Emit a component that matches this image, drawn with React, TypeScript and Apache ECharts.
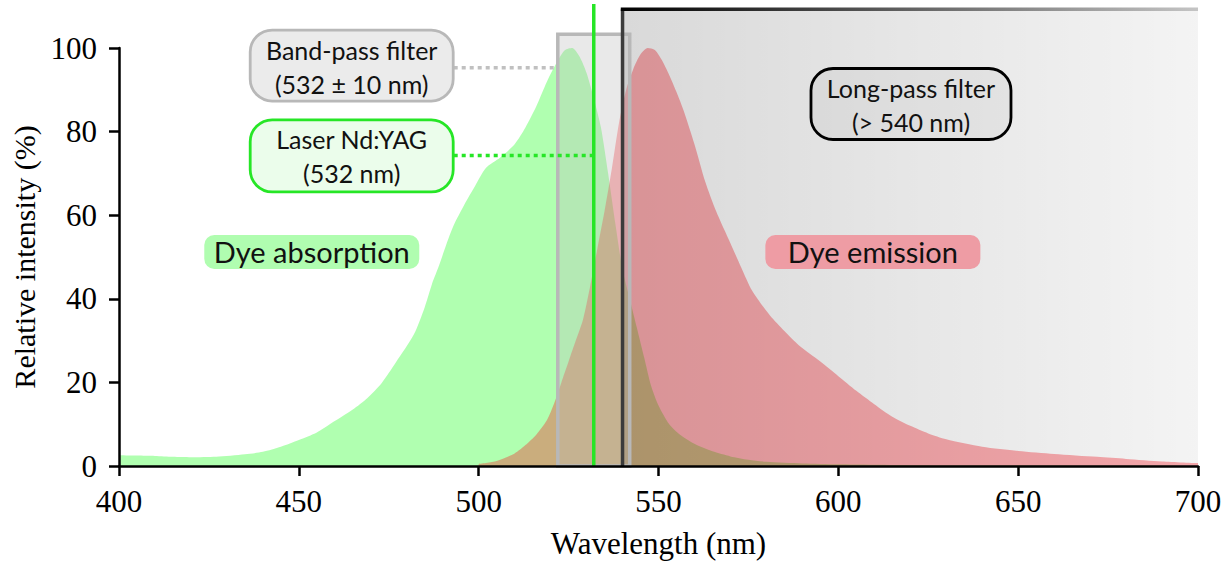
import React, { useEffect, useRef } from "react";
import * as echarts from "echarts";

// ---- data ----
const absWl = [400, 405, 410, 415, 420, 427, 435, 440, 445, 450, 455, 459, 465, 469, 473, 477, 482, 485, 487, 489, 491, 493, 496, 499, 502, 506, 510, 513, 516, 519, 522, 524, 526, 528, 530, 532, 534, 536, 538, 540, 542, 544, 546, 548, 550, 553, 556, 560, 565, 570, 575, 580, 590, 600, 620, 650, 700];
const absVal = [2.6, 2.5, 2.4, 2.2, 2.1, 2.2, 2.8, 3.4, 4.6, 6.2, 8.0, 10.2, 13.5, 16.2, 19.8, 24.8, 31.5, 38, 43.5, 48, 53, 57.5, 62.5, 67, 71.3, 73.8, 77, 81, 86, 92, 97, 99.5, 100, 98, 94, 88, 81, 70, 58, 47, 40, 33, 26, 19, 14.5, 10, 7.5, 5.3, 3.5, 2.3, 1.5, 1.0, 0.6, 0.4, 0.2, 0.1, 0];

const emWl = [500, 505, 510, 513, 516, 519, 521, 523, 525, 527, 529, 531, 533, 535, 537, 539, 541, 543, 545, 547, 549, 551, 553, 555, 557, 560, 563, 566, 570, 573, 576, 581, 585, 589, 595, 600, 605, 610, 615, 620, 625, 630, 640, 650, 660, 672, 680, 690, 700];
const emVal = [0.5, 1.2, 3, 5, 7.5, 11, 15, 20, 25, 30, 35, 43, 52, 61, 71, 82, 90, 95, 98.5, 100, 99.5, 97, 93.5, 89.5, 85, 77, 68, 61, 53.3, 47.5, 42, 36, 32.3, 28.9, 25, 21.5, 18, 14.8, 11.8, 9.6, 7.8, 6.4, 4.6, 3.6, 2.9, 2.2, 1.7, 1.1, 0.7];

const xTicks = [400, 450, 500, 550, 600, 650, 700];
const yTicks = [0, 20, 40, 60, 80, 100];

const laserNm = 532;
const bandPassLo = 522;
const bandPassHi = 542;
const bandPassTop = 103.3;
const longPassFrom = 540;
const longPassTo = 700;
const longPassTop = 109.3;
const laserTop = 110.5;

const SERIF = "'Liberation Serif', 'Times New Roman', serif";
const SANS = "Lato, 'Open Sans', sans-serif";

export default function App() {
  const ref = useRef<HTMLDivElement>(null);

  useEffect(() => {
    if (!ref.current) return;
    const chart = echarts.init(ref.current, undefined, { renderer: "svg" });

    const absData = absWl.map((w, i) => [w, absVal[i]]);
    const emData = emWl.map((w, i) => [w, emVal[i]]);

    chart.setOption({
      animation: false,
      backgroundColor: "#ffffff",
      grid: { left: 119, right: 34, top: 48, bottom: 97, containLabel: false, outerBoundsMode: "none" },
      xAxis: {
        type: "value",
        min: xTicks[0],
        max: xTicks[xTicks.length - 1],
        interval: 50,
        z: 10,
        name: "Wavelength (nm)",
        nameLocation: "middle",
        nameGap: 62,
        nameTextStyle: { fontFamily: SERIF, fontSize: 31, color: "#000" },
        axisLine: { show: true, lineStyle: { color: "#000", width: 2.5 } },
        axisTick: { show: true, inside: false, length: 10, lineStyle: { color: "#000", width: 2.5 } },
        axisLabel: { fontFamily: SERIF, fontSize: 31, color: "#000", margin: 20 },
        splitLine: { show: false },
      },
      yAxis: {
        type: "value",
        min: yTicks[0],
        max: yTicks[yTicks.length - 1],
        interval: 20,
        z: 10,
        name: "Relative intensity (%)",
        nameLocation: "middle",
        nameGap: 78,
        nameTextStyle: { fontFamily: SERIF, fontSize: 30, color: "#000" },
        axisLine: { show: true, lineStyle: { color: "#000", width: 2.5 } },
        axisTick: { show: true, inside: false, length: 10, lineStyle: { color: "#000", width: 2.5 } },
        axisLabel: { fontFamily: SERIF, fontSize: 31, color: "#000", margin: 22 },
        splitLine: { show: false },
      },
      series: [
        {
          name: "Dye absorption",
          type: "line",
          data: absData,
          showSymbol: false,
          smooth: 0.25,
          z: 2,
          lineStyle: { width: 0, opacity: 0 },
          areaStyle: { color: "rgba(0,255,0,0.31)", opacity: 1 },
        },
        {
          name: "Dye emission",
          type: "line",
          data: emData,
          showSymbol: false,
          smooth: 0.25,
          z: 3,
          lineStyle: { width: 0, opacity: 0 },
          areaStyle: { color: "rgba(252,20,32,0.35)", opacity: 1 },
        },
      ],
    });

    const px = (x: number, y: number) => chart.convertToPixel({ gridIndex: 0 }, [x, y]) as number[];

    const lpTL = px(longPassFrom, longPassTop);
    const lpBR = px(longPassTo, 0);
    const bpTL = px(bandPassLo, bandPassTop);
    const bpBR = px(bandPassHi, 0);
    const lzT = px(laserNm, laserTop);
    const lzB = px(laserNm, 0);

    const box = (cx: number, cy: number, w: number, h: number, r: number, fill: string, stroke: string | null, lw: number, z: number) => ({
      type: "rect",
      z,
      shape: { x: cx - w / 2, y: cy - h / 2, width: w, height: h, r },
      style: { fill, stroke: stroke || "none", lineWidth: lw },
    });
    const txt = (cx: number, cy: number, s: string, size: number, z: number) => ({
      type: "text",
      z,
      x: cx,
      y: cy,
      style: { text: s, fontFamily: SANS, fontSize: size, fill: "#111", align: "center", verticalAlign: "middle" },
    });

    const bpLabel = px(464.7, 95.8);
    const lzLabel = px(464.7, 74.2);
    const lpLabel = px(620.2, 86.6);
    const absLabel = px(453.6, 51.2);
    const emLabel = px(609.6, 51.2);
    const bpLineY = px(0, 95.3)[1];
    const lzLineY = px(0, 74.3)[1];

    const graphic: any[] = [
      {
        type: "rect",
        z: 5,
        shape: { x: lpTL[0], y: lpTL[1], width: lpBR[0] - lpTL[0], height: lpBR[1] - lpTL[1] },
        style: {
          fill: {
            type: "linear", x: 0, y: 0, x2: 1, y2: 0,
            colorStops: [
              { offset: 0, color: "rgba(0,0,0,0.15)" },
              { offset: 1, color: "rgba(0,0,0,0.045)" },
            ],
          },
        },
      },
      {
        type: "rect",
        z: 5,
        shape: { x: bpTL[0], y: bpTL[1], width: bpBR[0] - bpTL[0], height: bpBR[1] - bpTL[1] },
        style: { fill: "rgba(188,188,188,0.33)", stroke: "#b8b8b8", lineWidth: 3.5 },
      },
      {
        type: "line",
        z: 6,
        shape: { x1: lpTL[0], y1: lpTL[1], x2: lpTL[0], y2: lpBR[1] },
        style: { stroke: "#3c3c3c", lineWidth: 3.5 },
      },
      {
        type: "rect",
        z: 6,
        shape: { x: lpTL[0] - 1.75, y: lpTL[1] - 1.75, width: lpBR[0] - lpTL[0] + 1.75, height: 3.5 },
        style: {
          fill: {
            type: "linear", x: 0, y: 0, x2: 1, y2: 0,
            colorStops: [
              { offset: 0, color: "#000000" },
              { offset: 1, color: "#c4c4c4" },
            ],
          },
        },
      },
      {
        type: "line",
        z: 7,
        shape: { x1: lzT[0], y1: lzT[1], x2: lzB[0], y2: lzB[1] },
        style: { stroke: "#26e626", lineWidth: 3.5 },
      },
      {
        type: "line",
        z: 7,
        shape: { x1: bpLabel[0] + 102, y1: bpLineY, x2: bpTL[0] - 2, y2: bpLineY },
        style: { stroke: "#c0c0c0", lineWidth: 3.5, lineDash: [4, 4] },
      },
      {
        type: "line",
        z: 7,
        shape: { x1: lzLabel[0] + 102, y1: lzLineY, x2: lzT[0] - 1, y2: lzLineY },
        style: { stroke: "#26e626", lineWidth: 3.5, lineDash: [4, 4] },
      },
      box(bpLabel[0], bpLabel[1], 203, 71, 22, "#ebebeb", "#b8b8b8", 2.8, 8),
      txt(bpLabel[0], bpLabel[1] - 16, "Band-pass filter", 25, 9),
      txt(bpLabel[0], bpLabel[1] + 18, "(532 ± 10 nm)", 25, 9),

      box(lzLabel[0], lzLabel[1], 203, 72, 22, "#ebfdeb", "#26e626", 2.8, 8),
      txt(lzLabel[0], lzLabel[1] - 17, "Laser Nd:YAG", 25, 9),
      txt(lzLabel[0], lzLabel[1] + 17, "(532 nm)", 25, 9),

      box(lpLabel[0], lpLabel[1], 200, 71, 22, "rgba(0,0,0,0.03)", "#000000", 2.8, 8),
      txt(lpLabel[0], lpLabel[1] - 16, "Long-pass filter", 25, 9),
      txt(lpLabel[0], lpLabel[1] + 18, "(> 540 nm)", 25, 9),

      box(absLabel[0], absLabel[1], 215, 34, 10, "#b0fdb0", null, 0, 8),
      txt(absLabel[0], absLabel[1], "Dye absorption", 29, 9),

      box(emLabel[0], emLabel[1], 215, 34, 10, "#ee9ca4", null, 0, 8),
      txt(emLabel[0], emLabel[1], "Dye emission", 29, 9),
    ];

    chart.setOption({ graphic });

    return () => chart.dispose();
  }, []);

  return (
    <div
      ref={ref}
      style={{ position: "fixed", left: 0, top: 0, width: 1232, height: 563, background: "#fff" }}
    />
  );
}
